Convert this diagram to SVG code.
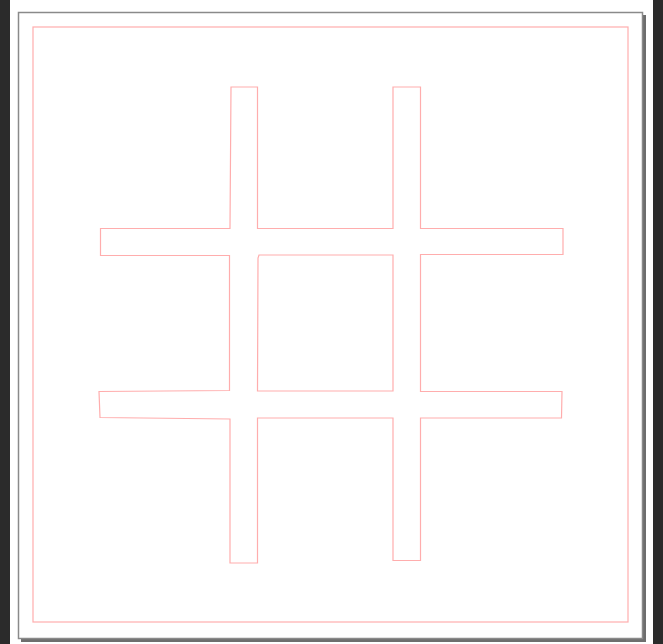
<svg xmlns="http://www.w3.org/2000/svg" width="663" height="644" viewBox="0 0 663 644">
<style>
.pink{fill:none;stroke:#ffadad;stroke-width:1.2;stroke-linejoin:miter}
</style>
<rect x="0" y="0" width="663" height="644" fill="#2b2b2b"/>
<rect x="10" y="0" width="643" height="644" fill="#ffffff"/>
<g id="page">
<rect x="21" y="15" width="625" height="627" fill="#6e6e6e"/>
<rect x="18.5" y="12.5" width="624" height="626" fill="#ffffff" stroke="#8a8a8a" stroke-width="1.5"/>
<rect x="33" y="27" width="595" height="595" class="pink"/>
</g>
<g id="hash">
<path class="pink" d="M231 87 L257.5 87 L257.5 228.5 L393 228.5 L393 87 L420.5 87 L420.5 228.5 L563 228.5 L563 254.5 L420.5 254.5 L420.5 391.5 L562 391.5 L561.5 418 L420.5 418 L420.5 560.5 L393 560.5 L393 418 L257.5 418 L257.5 563 L230 563 L230 419 L100 417.5 L99 391.5 L229.5 390.5 L229.5 255.5 L100.5 255.5 L100.5 228.5 L230 228.5 Z M259 255 L393 255 L393 391 L257.5 391 L258 258 Z"/>
</g>
</svg>
